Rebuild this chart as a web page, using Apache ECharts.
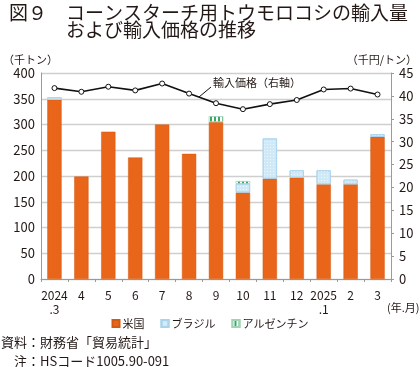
<!DOCTYPE html>
<html><head><meta charset="utf-8">
<script src="https://cdn.jsdelivr.net/npm/echarts@6/dist/echarts.min.js"></script>
<style>html,body{margin:0;padding:0;background:#fff;}#c{width:420px;height:367px;}</style>
</head><body><div id="c"></div>
<script>
const categories = ['2024\n.3','4','5','6','7','8','9','10','11','12','2025\n.1','2','3'];
const usValues = [348,199,286,236,300,243,305,168,195,197,184,184,276];
const brazilValues = [5,0,0,0,0,0,0,17,78,14,27,9,5];
const argentinaValues = [0,0,0,0,0,0,11,5,0,0,0,0,0];
const priceValues = [41.7,40.9,42.0,41.2,42.7,40.5,38.4,37.1,38.2,39.1,41.4,41.6,40.3];
const leftTicks = {min:0,max:400,interval:50};
const rightTicks = {min:0,max:45,interval:5};

const FONT = '"Noto Sans CJK JP", "Noto Sans", sans-serif';
const noZero = arr => arr.map(v => v === 0 ? '-' : v);
const chart = echarts.init(document.getElementById('c'), null, {renderer:'canvas'});
const TXT = '#231815';
chart.setOption({
  animation:false,
  textStyle:{fontFamily:FONT, color:TXT},
  legend:{
    top:313, left:'center',
    itemWidth:7, itemHeight:7, itemGap:16,
    icon:'rect',
    textStyle:{fontFamily:FONT, fontSize:11, color:TXT, padding:[0,0,0,-2]},
    data:['米国','ブラジル','アルゼンチン']
  },
  grid:{left:32, right:28, top:73, bottom:88},
  xAxis:{
    type:'category', data:categories, boundaryGap:true,
    axisLine:{show:true, lineStyle:{color:'#9a9a9a'}},
    axisTick:{show:true, inside:false, length:3, alignWithLabel:false, lineStyle:{color:'#9a9a9a'}},
    axisLabel:{fontSize:12, color:TXT, margin:9, lineHeight:14, fontFamily:FONT, interval:0}
  },
  yAxis:[
    {type:'value', min:leftTicks.min, max:leftTicks.max, interval:leftTicks.interval,
     name:'（千トン）', nameLocation:'end', nameGap:8,
     nameTextStyle:{fontSize:11, color:TXT, align:'left', padding:[0,0,0,-38], fontFamily:FONT},
     axisLine:{show:true, lineStyle:{color:'#9a9a9a'}},
     axisTick:{show:false},
     splitLine:{lineStyle:{color:'#cfcfcf', width:1.3}},
     axisLabel:{fontSize:13, color:TXT, margin:6, fontFamily:FONT}},
    {type:'value', min:rightTicks.min, max:rightTicks.max, interval:rightTicks.interval,
     name:'（千円/トン）', nameLocation:'end', nameGap:8,
     nameTextStyle:{fontSize:11, color:TXT, align:'right', padding:[0,-26,0,0], fontFamily:FONT},
     position:'right',
     axisLine:{show:true, lineStyle:{color:'#9a9a9a'}},
     axisTick:{show:true, length:3, lineStyle:{color:'#9a9a9a'}},
     splitLine:{show:false},
     axisLabel:{fontSize:13, color:TXT, margin:8, fontFamily:FONT}}
  ],
  series:[
    {name:'米国', type:'bar', stack:'imp', data:noZero(usValues), barWidth:'53%',
     itemStyle:{color:'#e8651a', borderColor:'#d35a12', borderWidth:0.5}},
    {name:'ブラジル', type:'bar', stack:'imp', data:noZero(brazilValues),
     itemStyle:{color:'#cfe9f7', borderColor:'#a9d3ec', borderWidth:0.8,
       decal:{symbol:'rect', symbolSize:1, color:'rgba(255,255,255,0.6)', dashArrayX:[1,2], dashArrayY:[1,2], rotation:0}}},
    {name:'アルゼンチン', type:'bar', stack:'imp', data:noZero(argentinaValues),
     itemStyle:{color:'#3aa66b', borderColor:'#9fd3b2', borderWidth:0.5,
       decal:{symbol:'rect', symbolSize:1, color:'#ffffff', dashArrayX:[1.5,1.5], dashArrayY:[5,0], rotation:0}}},
    {name:'輸入価格', type:'line', yAxisIndex:1, data:priceValues,
     symbol:'circle', symbolSize:5, showSymbol:true,
     lineStyle:{color:'#111', width:1.6},
     itemStyle:{color:'#fff', borderColor:'#111', borderWidth:1}, z:5}
  ],
  graphic:[
    {type:'text', x:9, y:13, style:{text:'図９　コーンスターチ用トウモロコシの輸入量', font:'19px '+FONT, fill:TXT, verticalAlign:'middle'}},
    {type:'text', x:66, y:30, style:{text:'および輸入価格の推移', font:'19px '+FONT, fill:TXT, verticalAlign:'middle'}},
    {type:'line', shape:{x1:199, y1:97, x2:211, y2:87}, style:{stroke:'#111', lineWidth:1}},
    {type:'text', left:213, top:77, style:{text:'輸入価格（右軸）', font:'11px '+FONT, fill:TXT}},
    {type:'text', left:387, top:302, style:{text:'(年.月)', font:'11px '+FONT, fill:TXT}},
    {type:'text', x:1, y:342, style:{text:'資料：財務省「貿易統計」', font:'13px '+FONT, fill:TXT, verticalAlign:'middle'}},
    {type:'text', x:1, y:361, style:{text:'　注：HSコード1005.90-091', font:'13px '+FONT, fill:TXT, verticalAlign:'middle'}}
  ]
});
</script></body></html>
